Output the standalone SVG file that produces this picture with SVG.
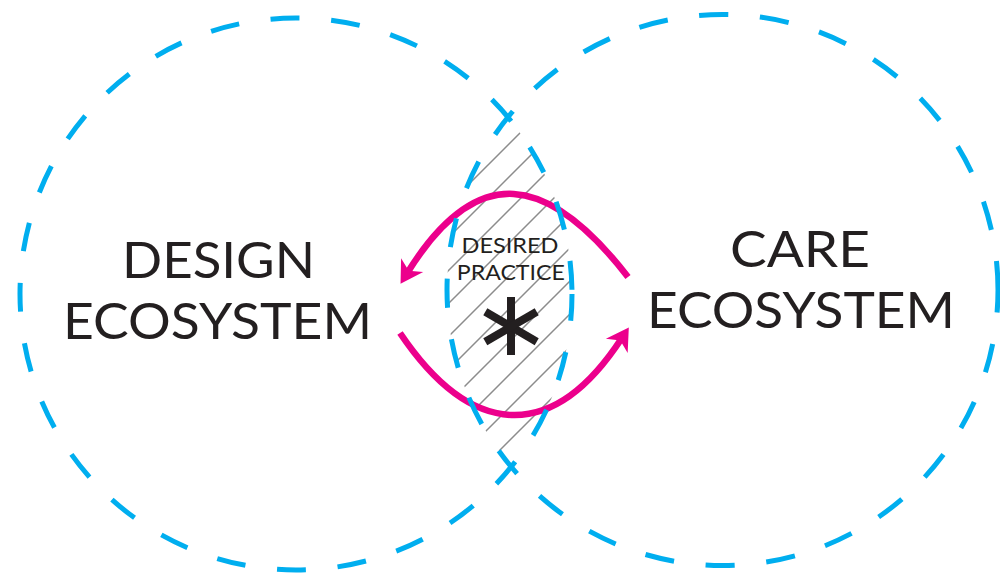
<svg xmlns="http://www.w3.org/2000/svg" width="1000" height="573" viewBox="0 0 1000 573">
<style>
.ring{fill:none;stroke:#00aeef;stroke-width:5;}
.flow{fill:none;stroke:#ec008c;stroke-width:6.5;}
.big{font-family:Lato,"Open Sans","Liberation Sans",sans-serif;font-size:50px;fill:#231f20;text-anchor:middle;}
.small{font-family:Lato,"Open Sans","Liberation Sans",sans-serif;font-size:21px;fill:#231f20;text-anchor:middle;}
.star{stroke:#231f20;stroke-width:8;fill:none;}
</style>
<defs>
<pattern id="hatch" patternUnits="userSpaceOnUse" x="26" y="0" width="33" height="33">
<path d="M0,33 L33,0 M-5,5 L5,-5 M28,38 L38,28" stroke="#8c8c8c" stroke-width="1.5" fill="none"/>
</pattern>
<clipPath id="clipL"><circle cx="296" cy="294" r="276"/></clipPath>
<clipPath id="clipR"><circle cx="722.5" cy="290" r="275.5"/></clipPath>
<marker id="head" markerUnits="userSpaceOnUse" orient="auto" refX="0" refY="0" markerWidth="40" markerHeight="40" overflow="visible">
<path d="M13,0 L-9,-13 L-2.5,0 L-9,13 Z" fill="#ec008c"/>
</marker>
</defs>
<rect width="1000" height="573" fill="#ffffff"/>

<g id="desired-practice">
<g clip-path="url(#clipL)"><rect x="430" y="90" width="160" height="400" fill="url(#hatch)" clip-path="url(#clipR)"/></g>
</g>

<g id="connectors">
<path class="flow" d="M628,277 C547.7,173 476.8,161 407.4,272.8" marker-end="url(#head)"/>
<path class="flow" d="M400,333 C471.1,438.3 552.3,444.5 621.7,338.3" marker-end="url(#head)"/>
</g>

<g id="design-ecosystem">
<circle class="ring" cx="296" cy="294" r="276" stroke-dasharray="29 31.8" stroke-dashoffset="2.2"/>
<text class="big" x="218.5" y="278" textLength="193" lengthAdjust="spacingAndGlyphs">DESIGN</text>
<text class="big" x="217.5" y="339" textLength="309" lengthAdjust="spacingAndGlyphs">ECOSYSTEM</text>
</g>

<g id="care-ecosystem">
<circle class="ring" cx="722.5" cy="290" r="275.5" stroke-dasharray="29.3 31.7" stroke-dashoffset="6.7"/>
<text class="big" x="800" y="267" textLength="140" lengthAdjust="spacingAndGlyphs">CARE</text>
<text class="big" x="801" y="327.5" textLength="308" lengthAdjust="spacingAndGlyphs">ECOSYSTEM</text>
</g>

<g id="desired-practice-label">
<text class="small" x="510" y="253.3" textLength="97" lengthAdjust="spacingAndGlyphs">DESIRED</text>
<text class="small" x="510.8" y="280" textLength="108" lengthAdjust="spacingAndGlyphs">PRACTICE</text>
<g class="star">
<line x1="511" y1="297" x2="511" y2="355"/>
<line x1="485.3" y1="311.7" x2="536.7" y2="341.7"/>
<line x1="485.3" y1="341.7" x2="536.7" y2="311.7"/>
</g>
</g>
</svg>
